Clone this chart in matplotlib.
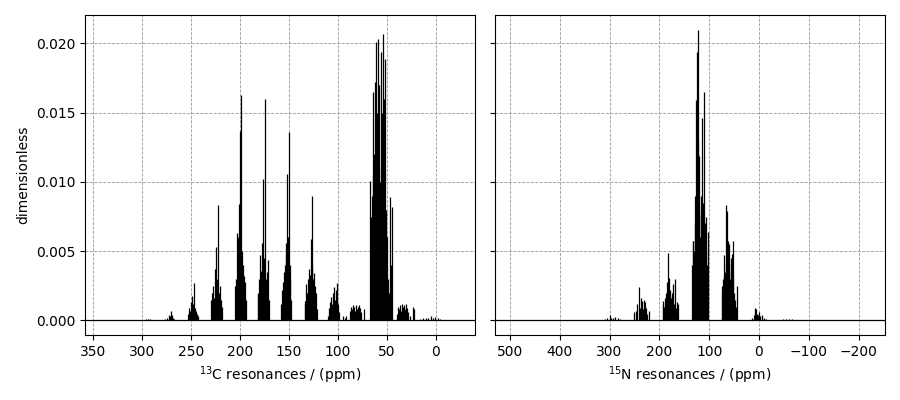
import matplotlib
matplotlib.use("Agg")
import matplotlib.pyplot as plt

# 13C peak positions (ppm) and heights
c_ppm = [296, 294, 292,
         276, 274, 272, 271, 270, 269, 268, 267,
         253, 252, 251, 250, 249, 248, 247, 246, 245, 244, 243,
         229, 228, 227, 226, 225, 224, 223, 222, 221, 220, 219, 218,
         205, 204, 203, 202, 201.5, 201, 200, 199.5, 199, 198.3, 198, 197, 196.5, 196, 195, 194,
         181.7, 181, 180, 179, 178, 177.3, 176.8, 176.2, 175.5, 174.1, 173.5, 172.8, 172, 171.5, 170.5,
         157.5, 156.7, 156, 155, 154, 153.3, 152.5, 151.6, 151, 150.3, 149.5, 149, 148.3, 147.3,
         133.7, 133, 132, 131, 130.3, 129.6, 128.5, 127.6, 126.8, 125.9, 125, 124, 123.3, 122.6, 121.7,
         110, 109, 108, 107, 106, 105, 104, 103, 102, 101, 100, 99,
         95, 93, 92,
         88, 87, 86, 85, 84, 83, 82, 81, 80, 79, 78, 77, 76, 73,
         67.3, 66.5, 65.5, 64.5, 63.8, 63, 62.2, 61.2, 60.5, 59.8, 58.9, 58.2, 57.5, 56.8, 56.1, 55.4, 54.6, 53.8,
         53, 52.4, 51.7, 51, 50, 49, 48, 46.9, 46, 44.9,
         40, 39, 38, 37, 36, 35, 34, 33, 32, 31, 30, 29, 28, 26.5, 23.5, 22.5,
         16, 13, 10, 8, 5, 3, 1, -2, -4]
c_int = [0.0001, 0.00012, 0.00008,
         0.0001, 0.0002, 0.0004, 0.0003, 0.00065, 0.0004, 0.0002, 0.0001,
         0.0005, 0.0009, 0.0007, 0.0013, 0.0018, 0.0012, 0.0027, 0.0009, 0.0007, 0.0005, 0.0003,
         0.0015, 0.0020, 0.0025, 0.0016, 0.0037, 0.0053, 0.0030, 0.0083, 0.0020, 0.0025, 0.0015, 0.0010,
         0.0025, 0.0030, 0.0063, 0.0049, 0.0060, 0.0084, 0.0137, 0.0070, 0.0045, 0.01625, 0.0050, 0.0040, 0.0030, 0.0032, 0.0028, 0.0015,
         0.0020, 0.0019, 0.0030, 0.0047, 0.0036, 0.0056, 0.0040, 0.0102, 0.0045, 0.0160, 0.0030, 0.0024, 0.0035, 0.0044, 0.0015,
         0.0012, 0.0022, 0.0028, 0.0035, 0.0040, 0.0056, 0.0048, 0.0106, 0.0060, 0.0136, 0.0035, 0.0040, 0.0029, 0.0015,
         0.0012, 0.0014, 0.0026, 0.0020, 0.0030, 0.0037, 0.0033, 0.0059, 0.0040, 0.0090, 0.0030, 0.0034, 0.0025, 0.0020, 0.0008,
         0.0003, 0.0009, 0.0013, 0.0017, 0.0012, 0.0020, 0.0024, 0.0015, 0.0022, 0.0027, 0.0012, 0.0006,
         0.0003, 0.0002, 0.0003,
         0.0007, 0.0010, 0.0008, 0.0011, 0.0009, 0.0010, 0.0007, 0.0011, 0.0008, 0.0010, 0.0011, 0.0009, 0.0006, 0.0008,
         0.0101, 0.0075, 0.0090, 0.0105, 0.0165, 0.0120, 0.0172, 0.0201, 0.0105, 0.0150, 0.0203, 0.0110, 0.0170, 0.0100, 0.0194, 0.0090, 0.0150, 0.0207,
         0.0105, 0.0160, 0.0189, 0.0080, 0.0060, 0.0030, 0.0020, 0.0089, 0.0040, 0.0082,
         0.0005, 0.0010, 0.0008, 0.0011, 0.0007, 0.0012, 0.0009, 0.0010, 0.0011, 0.0008, 0.0012, 0.0009, 0.0006, 0.0003, 0.0010, 0.0008,
         0.0001, 0.0002, 0.00015, 0.0002, 0.0003, 0.0002, 0.00025, 0.0002, 0.0001]

# 15N peak positions (ppm) and heights
n_ppm = [361, 360,
         309, 305, 300, 297, 293, 289, 284, 279,
         250, 247, 244, 241, 239, 237, 235.6, 233, 231, 229, 227, 224, 220,
         193, 192, 190, 188, 186, 184.5, 183.4, 182, 181, 179.5, 178, 176, 174, 172, 170, 168.7, 166, 164, 162,
         134.5, 133, 131.9, 130.5, 129, 128, 127, 126, 125, 124, 123.3, 122.5, 121.5, 120.5, 119.5, 118.5,
         117, 116, 115, 113.8, 112.5, 111.5, 110.4, 109, 108, 107, 105.5, 104, 102.4,
         74, 73.7, 72, 70.5, 69.6, 68, 67, 65.6, 64.5, 63.6, 62.5, 61.6, 60.5, 59.6, 58, 57, 55.5, 54.9, 53.5, 52.5, 51.5, 50, 48, 46, 43.5,
         14, 11, 9, 7, 6, 4, 2, 0, -3, -6, -10, -14,
         -48, -55, -60, -66, -72]
n_int = [0.00005, 0.00004,
         0.0001, 0.0002, 0.00036, 0.0002, 0.0002, 0.00025, 0.00015, 0.0001,
         0.0006, 0.0007, 0.0012, 0.0024, 0.0009, 0.0016, 0.0014, 0.0008, 0.0015, 0.0013, 0.0009, 0.0005, 0.0007,
         0.0012, 0.0014, 0.0010, 0.0016, 0.0020, 0.0028, 0.0049, 0.0025, 0.0031, 0.0018, 0.0022, 0.0016, 0.0020, 0.0026, 0.0012, 0.0030, 0.0009, 0.0013, 0.0012,
         0.0040, 0.0057, 0.0057, 0.0050, 0.0070, 0.0090, 0.0159, 0.0083, 0.0194, 0.0084, 0.0130, 0.0210, 0.0100, 0.0119, 0.0080, 0.0060,
         0.0076, 0.0090, 0.0070, 0.0146, 0.0060, 0.0085, 0.0165, 0.0070, 0.0060, 0.0075, 0.0050, 0.0040, 0.0064,
         0.0020, 0.0025, 0.0030, 0.0032, 0.0047, 0.0035, 0.0040, 0.0083, 0.0050, 0.0079, 0.0045, 0.0057, 0.0040, 0.0055, 0.0030, 0.0035, 0.0045, 0.0048, 0.0040, 0.0030, 0.0057, 0.0020, 0.0015, 0.0010, 0.0025,
         0.0002, 0.0004, 0.0006, 0.0009, 0.0008, 0.0005, 0.0004, 0.0006, 0.0003, 0.0004, 0.0002, 0.0001,
         0.0001, 0.00008, 0.0001, 0.00008, 0.00005]

c_xlim = (358, -40)
n_xlim = (530, -253)
y_lim = (-0.00105, 0.02205)

fig = plt.figure(figsize=(9, 4), dpi=100)
ax1 = fig.add_axes([85/900, 1-335/400, 390/900, 320/400])
ax2 = fig.add_axes([495/900, 1-335/400, 390/900, 320/400], sharey=ax1)

for ax, pos, hts, xl, lab in [(ax1, c_ppm, c_int, c_xlim, r"$^{13}$C resonances / (ppm)"),
                              (ax2, n_ppm, n_int, n_xlim, r"$^{15}$N resonances / (ppm)")]:
    ax.set_axisbelow(True)
    ax.grid(True, linestyle='--', color='#999999', linewidth=0.6)
    ax.axhline(0, color='k', lw=0.9)
    ax.vlines(pos, 0, hts, colors='k', lw=0.9)
    ax.set_xlim(*xl)
    ax.set_ylim(*y_lim)
    ax.set_xlabel(lab)

ax1.set_ylabel("dimensionless")
ax1.set_yticks([0.0, 0.005, 0.010, 0.015, 0.020])
ax1.yaxis.set_major_formatter(matplotlib.ticker.FormatStrFormatter('%.3f'))
plt.setp(ax2.get_yticklabels(), visible=False)

fig.savefig("out.png", dpi=100)
